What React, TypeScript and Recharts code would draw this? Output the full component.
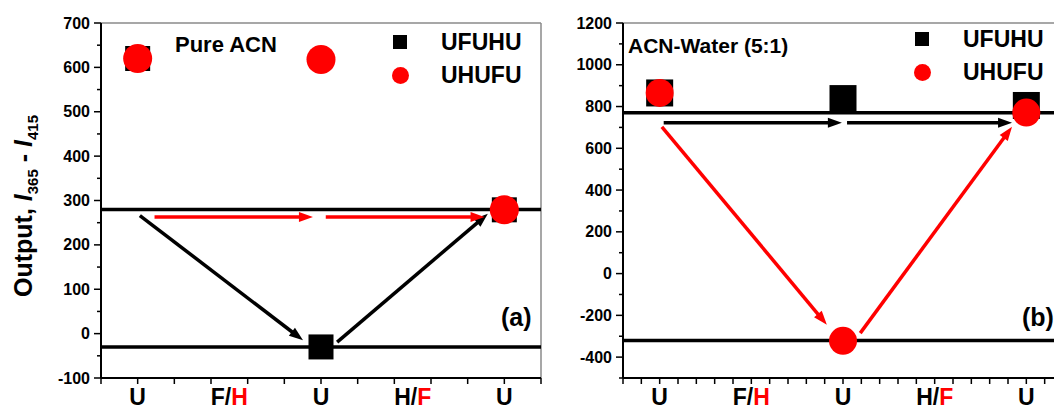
import React from 'react';
import { ScatterChart, Scatter, XAxis, YAxis, ReferenceLine } from 'recharts';

const FONT = '"Liberation Sans", Arial, Helvetica, sans-serif';
const RED = '#ff0000';
const FRAME = '#8a8a8a';

// x positions of the U states, and of the input labels between them
const stateX = [1, 6, 11];
const labelX = [1, 3.5, 6, 8.5, 11];
const labelText = ['U', 'F/H', 'U', 'H/F', 'U'];
const labelRed = ['', 'H', '', 'F', ''];

// panel (a) Pure ACN
const ufuhuA = [620, -30, 279];
const uhufuA = [620, 618, 279];
const levelsA = [280, -30];
const yTicksA = [-100, -50, 0, 50, 100, 150, 200, 250, 300, 350, 400, 450, 500, 550, 600, 650, 700];
const yLabelsA = [-100, 0, 100, 200, 300, 400, 500, 600, 700];
const xMarksA = [0, 1, 2, 3, 4, 5, 6, 7, 8, 9, 10, 11, 12];
// [x1, y1, x2, y2, colour]
const arrowsA: [number, number, number, number, string][] = [
  [1.06, 266, 5.51, -15, '#000'],
  [6.44, -19, 10.55, 270, '#000'],
  [1.46, 263, 5.78, 263, RED],
  [6.13, 263, 10.46, 263, RED],
];

// panel (b) ACN-Water (5:1)
const ufuhuB = [865, 838, 805];
const uhufuB = [865, -322, 771];
const levelsB = [770, -320];
const yTicksB = [-500, -400, -300, -200, -100, 0, 100, 200, 300, 400, 500, 600, 700, 800, 900, 1000, 1100, 1200];
const yLabelsB = [-400, -200, 0, 200, 400, 600, 800, 1000, 1200];
const xMarksB = [0, 0.5, 1, 1.5, 2, 2.5, 3, 3.5, 4, 4.5, 5, 5.5, 6, 6.5, 7, 7.5, 8, 8.5, 9, 9.5, 10, 10.5, 11, 11.5, 12];
const arrowsB: [number, number, number, number, string][] = [
  [1.11, 722, 5.97, 722, '#000'],
  [6.11, 722, 10.61, 722, '#000'],
  [1.06, 703, 5.56, -245, RED],
  [6.47, -285, 10.61, 703, RED],
];

const toPoints = (ys: number[]) => stateX.map((x, i) => ({ x, y: ys[i] }));

const makeXTick = (marks: number[]) => (props: any) => {
  const { x, y, payload } = props;
  const v = payload.value;
  const li = labelX.indexOf(v);
  let label = null;
  if (li >= 0) {
    const t = labelText[li];
    const red = labelRed[li];
    const head = red ? t.slice(0, -1) : t;
    label = (
      <text x={x} y={y + 27} textAnchor="middle" fontFamily={FONT} fontWeight="bold" fontSize={23} fill="#000">
        <tspan>{head}</tspan>
        {red && <tspan fill={RED}>{red}</tspan>}
      </text>
    );
  }
  return (
    <g>
      {marks.includes(v) && <line x1={x} x2={x} y1={y} y2={y + 6} stroke="#000" strokeWidth={1.5} />}
      {label}
    </g>
  );
};

const makeYTick = (labels: number[]) => (props: any) => {
  const { x, y, payload } = props;
  const major = labels.includes(payload.value);
  return (
    <g>
      <line x1={x} x2={x - (major ? 7 : 4)} y1={y} y2={y} stroke="#000" strokeWidth={1.5} />
      {major && (
        <text x={x - 11} y={y + 5.5} textAnchor="end" fontFamily={FONT} fontWeight="bold" fontSize={16} fill="#000">
          {payload.value}
        </text>
      )}
    </g>
  );
};

const makeSquare = (size: number) => (p: any) => (
  <rect x={p.cx - size / 2} y={p.cy - size / 2} width={size} height={size} fill="#000" />
);
const makeDot = (d: number) => (p: any) => <circle cx={p.cx} cy={p.cy} r={d / 2} fill={RED} />;

const ArrowShape = (p: any) => {
  const { x1, y1, x2, y2, stroke } = p;
  const dx = x2 - x1;
  const dy = y2 - y1;
  const len = Math.hypot(dx, dy) || 1;
  const ux = dx / len;
  const uy = dy / len;
  const hl = 14;
  const hw = 5;
  const bx = x2 - ux * hl;
  const by = y2 - uy * hl;
  return (
    <g>
      <line x1={x1} y1={y1} x2={bx + ux * 2} y2={by + uy * 2} stroke={stroke} strokeWidth={3.5} />
      <polygon points={`${x2},${y2} ${bx - uy * hw},${by + ux * hw} ${bx + uy * hw},${by - ux * hw}`} fill={stroke} />
    </g>
  );
};

interface PanelProps {
  width: number;
  yWidth: number;
  right: number;
  domain: [number, number];
  yTicks: number[];
  yLabels: number[];
  xMarks: number[];
  ufuhu: number[];
  uhufu: number[];
  levels: number[];
  arrows: [number, number, number, number, string][];
  square: number;
  dot: number;
}

const Panel = (p: PanelProps) => {
  const xTicks = Array.from(new Set([...p.xMarks, ...labelX])).sort((a, b) => a - b);
  return (
    <ScatterChart width={p.width} height={409} margin={{ top: 23, right: p.right, bottom: 0, left: 0 }}>
      <XAxis
        type="number" dataKey="x" domain={[0, 12]} ticks={xTicks} interval={0}
        tickLine={false} tickSize={0} tickMargin={0} height={31}
        axisLine={{ stroke: '#000', strokeWidth: 2 }} tick={makeXTick(p.xMarks)}
      />
      <YAxis
        type="number" dataKey="y" domain={p.domain} ticks={p.yTicks} interval={0}
        tickLine={false} tickSize={0} tickMargin={0} width={p.yWidth}
        axisLine={{ stroke: '#000', strokeWidth: 2 }} tick={makeYTick(p.yLabels)}
      />
      <ReferenceLine y={p.domain[1]} stroke={FRAME} strokeWidth={1.5} />
      <ReferenceLine x={12} stroke={FRAME} strokeWidth={1.5} />
      {p.levels.map((v) => (
        <ReferenceLine key={v} y={v} stroke="#000" strokeWidth={3.5} />
      ))}
      {p.arrows.map((a, i) => (
        <ReferenceLine
          key={i}
          segment={[{ x: a[0], y: a[1] }, { x: a[2], y: a[3] }]}
          stroke={a[4]}
          shape={ArrowShape}
          ifOverflow="visible"
        />
      ))}
      <Scatter name="UFUHU" data={toPoints(p.ufuhu)} shape={makeSquare(p.square)} isAnimationActive={false} />
      <Scatter name="UHUFU" data={toPoints(p.uhufu)} shape={makeDot(p.dot)} isAnimationActive={false} />
    </ScatterChart>
  );
};

const txt = (left: number, top: number, size: number, content: React.ReactNode) => (
  <div
    style={{
      position: 'absolute', left, top, transform: 'translateY(-50%)', fontSize: size,
      fontWeight: 'bold', lineHeight: 1, whiteSpace: 'nowrap', color: '#000',
    }}
  >
    {content}
  </div>
);

const LegendBox = ({ left, top }: { left: number; top: number }) => (
  <>
    <div style={{ position: 'absolute', left: left - 7, top: top - 7, width: 14, height: 14, background: '#000' }} />
    <div style={{ position: 'absolute', left: left - 8.5, top: top + 33 - 8.5, width: 17, height: 17, borderRadius: '50%', background: RED }} />
    {txt(left + 41, top, 23, 'UFUHU')}
    {txt(left + 41, top + 33, 23, 'UHUFU')}
  </>
);

export default function App() {
  return (
    <div
      style={{
        position: 'fixed', left: 0, top: 0, width: 1054, height: 409, overflow: 'hidden',
        background: '#fff', fontFamily: FONT,
      }}
    >
      <div style={{ position: 'absolute', left: 0, top: 0 }}>
        <Panel
          width={560} yWidth={101} right={19} domain={[-100, 700]} yTicks={yTicksA} yLabels={yLabelsA}
          xMarks={xMarksA} ufuhu={ufuhuA} uhufu={uhufuA} levels={levelsA} arrows={arrowsA} square={25} dot={29}
        />
      </div>
      <div style={{ position: 'absolute', left: 560, top: 0 }}>
        <Panel
          width={520} yWidth={63} right={17} domain={[-500, 1200]} yTicks={yTicksB} yLabels={yLabelsB}
          xMarks={xMarksB} ufuhu={ufuhuB} uhufu={uhufuB} levels={levelsB} arrows={arrowsB} square={27} dot={28}
        />
      </div>

      <div
        style={{
          position: 'absolute', left: 25, top: 206, transform: 'translate(-50%, -50%) rotate(-90deg)',
          fontSize: 25, fontWeight: 'bold', whiteSpace: 'nowrap', lineHeight: 1,
        }}
      >
        Output, <i>I</i><sub style={{ fontSize: 15 }}>365</sub> - <i>I</i><sub style={{ fontSize: 15 }}>415</sub>
      </div>

      {txt(175, 45, 22, 'Pure ACN')}
      {txt(501, 317, 25, '(a)')}
      <LegendBox left={400} top={42} />

      {txt(628, 45, 21, 'ACN-Water (5:1)')}
      {txt(1022, 317, 25, '(b)')}
      <LegendBox left={922} top={39} />
    </div>
  );
}
